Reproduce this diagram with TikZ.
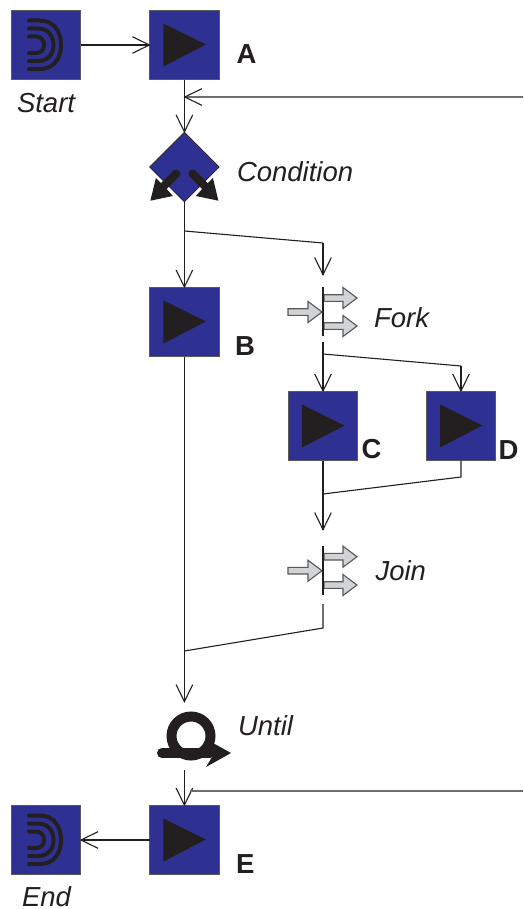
\documentclass[tikz,border=0pt]{standalone}
\usepackage{fontspec}
\setmainfont{Liberation Sans}
\usetikzlibrary{arrows.meta,shapes.geometric}
\definecolor{ink}{HTML}{231F20}
\definecolor{boxblue}{HTML}{2E3192}
\definecolor{arrowgrey}{HTML}{D1D3D4}
\definecolor{linegrey}{HTML}{58595B}
\definecolor{loopgrey}{HTML}{6D6E71}
\pgfdeclarearrow{
  name=VTip,
  setup code={\pgfarrowssettipend{0.4pt}\pgfarrowssetlineend{0pt}\pgfarrowssetvisualbackend{-17pt}\pgfarrowssetbackend{-17pt}\pgfarrowshullpoint{0pt}{0pt}},
  drawing code={\pgfsetdash{}{0pt}\pgfsetlinewidth{1.1pt}\pgfsetcolor{ink}\pgfpathmoveto{\pgfpoint{-17pt}{8.3pt}}\pgfpathlineto{\pgfpoint{0pt}{0pt}}\pgfpathlineto{\pgfpoint{-17pt}{-8.3pt}}\pgfusepathqstroke}
}
\tikzset{
  x=1pt,y=-1pt,
  boxnode/.style={draw=linegrey,line width=0.8pt,fill=boxblue,minimum width=69.2pt,minimum height=69.2pt,inner sep=0pt,outer sep=0pt},
  decision/.style={diamond,draw=ink,line width=0.6pt,fill=boxblue,minimum width=69.5pt,minimum height=69.5pt,inner sep=0pt,outer sep=0pt,aspect=1},
  conn/.style={draw=ink,line width=1.1pt},
  flow/.style={conn,-VTip},
  greyline/.style={draw=loopgrey,line width=1.4pt},
  lab/.style={anchor=base west,inner sep=0pt,outer sep=0pt,text=ink,font=\fontsize{27.5pt}{30pt}\selectfont\itshape},
  letter/.style={anchor=base west,inner sep=0pt,outer sep=0pt,text=ink,font=\fontsize{27.5pt}{30pt}\selectfont\bfseries},
  blockarrow/.style={draw=linegrey,line width=1.1pt,fill=arrowgrey,line join=miter},
  forkbar/.style={draw=ink,line width=2.8pt},
  glyph/.style={draw=ink,line width=4pt,line cap=round}
}
\newcommand{\playicon}[1]{\fill[ink] ([shift={(-21,-21.5)}]#1.center) -- ([shift={(21.5,-0.5)}]#1.center) -- ([shift={(-21,21.5)}]#1.center) -- cycle;}
\newcommand{\stopicon}[1]{%
  \begin{scope}[shift={(#1.center)}]
  \draw[glyph] (-17,-24.5) -- (-6,-24.5) .. controls (8,-24.5) and (15,-13) .. (15,0) .. controls (15,13) and (8,24) .. (-6,24) -- (-17,24);
  \draw[glyph] (-17,-16.5) -- (-8,-16.5) .. controls (2,-16.5) and (7.5,-9) .. (7.5,0) .. controls (7.5,9) and (2,16) .. (-8,16) -- (-17,16);
  \draw[glyph] (-17,-8.5) -- (-10,-8.5) .. controls (-5,-8.5) and (-2,-5) .. (-2,0) .. controls (-2,5) and (-5,8) .. (-10,8) -- (-17,8);
  \end{scope}}
\newcommand{\blockarr}[4]{\path[blockarrow] (#1,#4-3.3) -- (#2,#4-3.3) -- (#2,#4-10.5) -- (#3,#4) -- (#2,#4+10.5) -- (#2,#4+3.3) -- (#1,#4+3.3) -- cycle;}
\begin{document}
\begin{tikzpicture}
\useasboundingbox (0,0) rectangle (523,909);
\fill[white] (0,0) rectangle (523,909);
% boxes
\node[boxnode] (start) at (46,45) {};
\node[boxnode] (a) at (184.4,45) {};
\node[decision] (cond) at (184.4,167) {};
\node[boxnode] (b) at (184.4,322) {};
\node[boxnode] (c) at (323,426) {};
\node[boxnode] (d) at (461,426) {};
\node[boxnode] (e) at (184.4,840) {};
\node[boxnode] (end) at (46,840) {};
\stopicon{start}\stopicon{end}
\playicon{a}\playicon{b}\playicon{c}\playicon{d}\playicon{e}
% condition arrows
\begin{scope}[shift={(cond.center)}]
  \foreach \s in {-1,1}{
    \begin{scope}[x={(\s*1pt,0pt)}]
    \draw[white,line width=2.5pt,line join=miter] (-34,33.7) -- (-28.5,11) -- (-11.5,29) -- cycle;
    \draw[ink,line width=8pt,line cap=round] (-8,6.5) -- (-21,19.5);
    \fill[ink] (-34,33.7) -- (-28.5,11) -- (-20,19.5) -- (-11.5,29) -- cycle;
    \end{scope}}
\end{scope}
% fork and join glyphs
\coordinate (forktop) at (323,287);
\coordinate (forkbot) at (323,336);
\coordinate (jointop) at (323,546);
\coordinate (joinbot) at (323,595);
\blockarr{288}{308}{322}{312}
\blockarr{324}{343}{357}{298}
\blockarr{324}{343}{357}{326}
\blockarr{288}{308}{322}{570.7}
\blockarr{324}{343}{357}{556.7}
\blockarr{324}{343}{357}{585}
\draw[forkbar] (forktop) -- (forkbot);
\draw[forkbar] (jointop) -- (joinbot);
% until glyph
\draw[ink,line width=10pt] (191,736) circle (19.5);
\draw[ink,line width=10pt,line cap=round] (162,753) -- (210,753);
\fill[ink] (206,743) -- (213,743) -- (231,753) -- (206,767) -- (212,757) -- cycle;
\coordinate (untilbot) at (184.4,770);
\coordinate (untilin) at (184.4,702);
% connectors
\coordinate (loopa) at (523,97);
\coordinate (loopaend) at (184.4,97);
\coordinate (split1) at (184.4,231);
\coordinate (bend1) at (323,243);
\coordinate (forkin) at (323,275);
\coordinate (forkout) at (323,342);
\coordinate (split2) at (323,354);
\coordinate (bend2) at (461,366);
\coordinate (merge1) at (323,494);
\coordinate (bend3) at (461,477);
\coordinate (joinin) at (323,530);
\coordinate (joinout) at (323,604);
\coordinate (bend4) at (323,628);
\coordinate (merge2) at (184.4,651);
\coordinate (loope) at (523,791);
\coordinate (loopeend) at (190,791);
\path[flow] (start) -- (a);
\path[conn] (a.south) -- (loopaend);
\path[flow] (a.south) -- (cond.north);
\path[greyline,-VTip] (loopa) -- (loopaend);
\path[flow] (cond.south) -- (b.north);
\path[conn] (split1) -- (bend1);
\path[flow] (bend1) -- (forkin);
\path[flow] (forkout) -- (c.north);
\path[conn] (split2) -- (bend2);
\path[flow] (bend2) -- (d.north);
\path[flow] (c.south) -- (joinin);
\path[conn] (d.south) -- (bend3) -- (merge1);
\path[conn] (joinout) -- (bend4) -- (merge2);
\path[flow] (b.south) -- (untilin);
\path[flow] (untilbot) -- (e.north);
\path[greyline] (loope) -- (loopeend);
\path[flow] (e) -- (end);
% labels
\node[lab] (tstart) at (17,113) {Start};
\node[letter] (ta) at (236.5,64) {A};
\node[lab] (tcond) at (237,182) {Condition};
\node[letter] (tb) at (235,355) {B};
\node[lab] (tfork) at (374,327) {Fork};
\node[letter] (tc) at (361.5,458) {C};
\node[letter] (td) at (498.5,459) {D};
\node[lab] (tjoin) at (375.5,580) {Join};
\node[lab] (tuntil) at (238,735) {Until};
\node[letter] (te) at (236,873) {E};
\node[lab] (tend) at (22,906.5) {End};
\end{tikzpicture}
\end{document}
